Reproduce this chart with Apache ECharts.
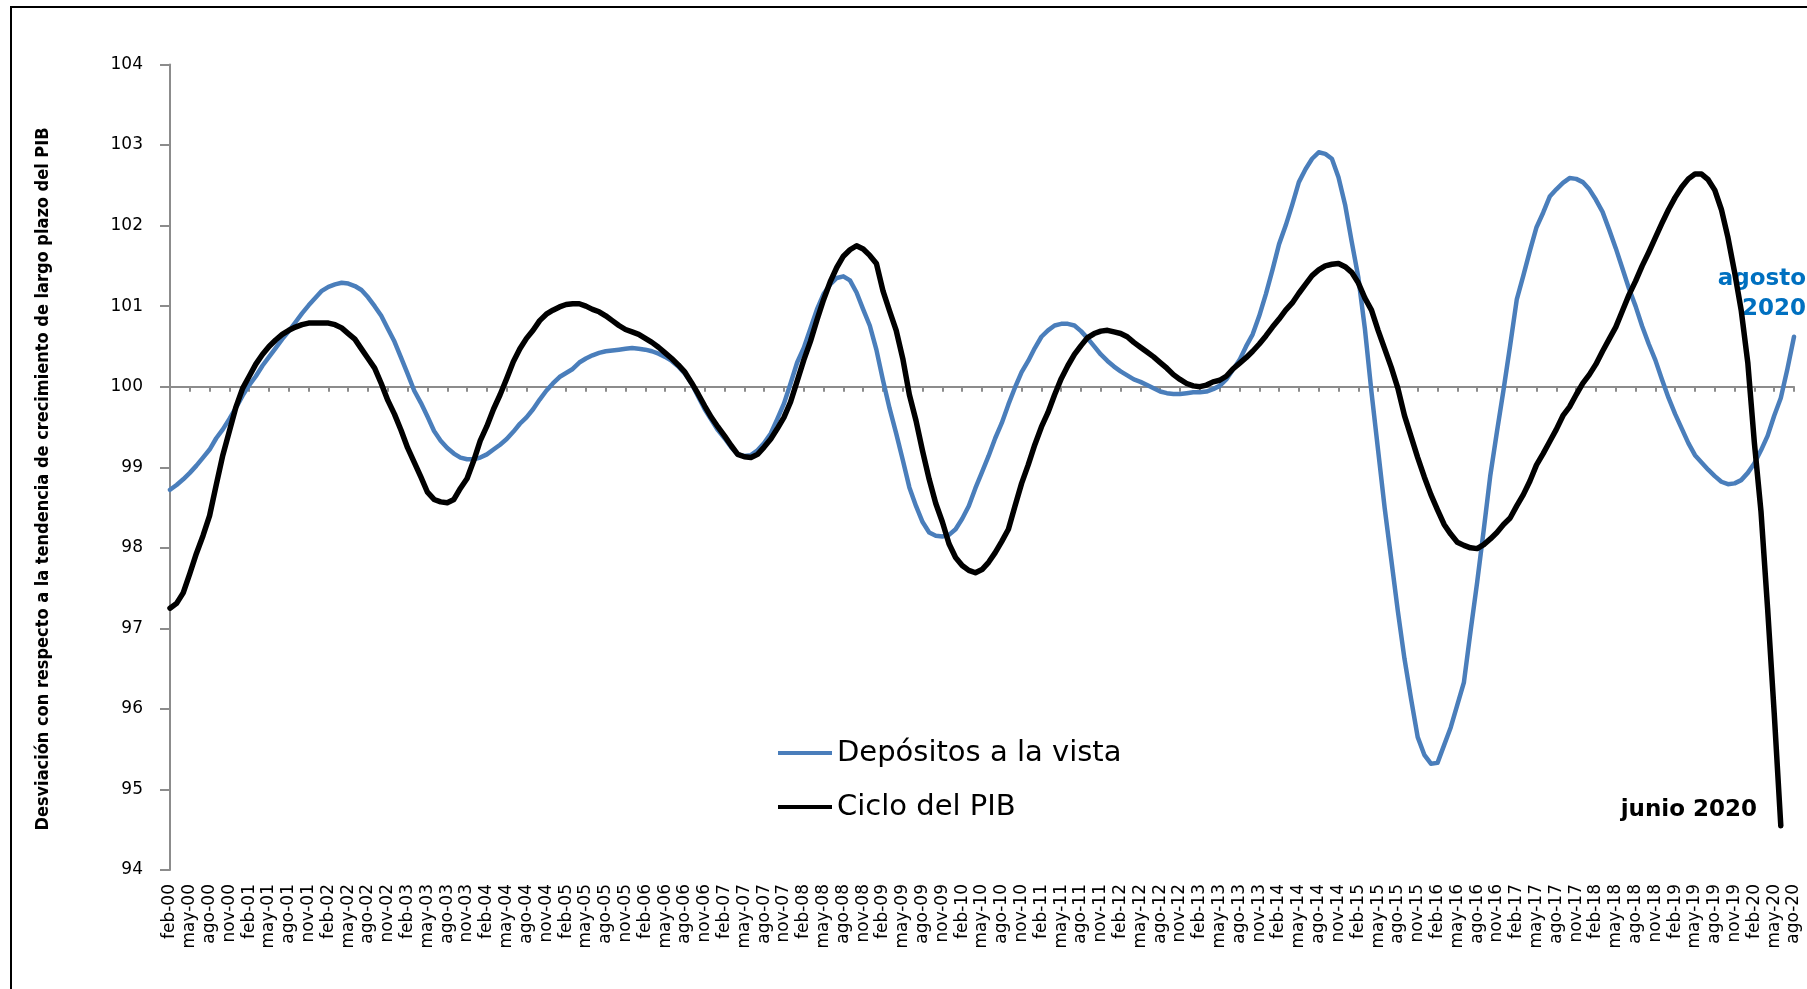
<!DOCTYPE html>
<html>
<head>
<meta charset="utf-8">
<script src="https://cdn.jsdelivr.net/npm/echarts@6/dist/echarts.min.js"></script>
<style>
  html, body { margin: 0; padding: 0; background: #fff; }
  #main { width: 1807px; height: 989px; }
</style>
</head>
<body>
<div id="main"></div>
<script>
// meses (la serie arranca en feb-00 y termina en ago-20)
var meses = ["ene", "feb", "mar", "abr", "may", "jun", "jul", "ago", "sep", "oct", "nov", "dic"];
var categorias = [];
for (var i = 0; i < 247; i++) {
  var k = i + 1;
  var anio = Math.floor(k / 12);
  categorias.push(meses[k % 12] + "-" + (anio < 10 ? "0" + anio : "" + anio));
}

// Depósitos a la vista (feb-00 .. ago-20)
var depositos = [
  98.72, 98.78, 98.85, 98.93, 99.02, 99.12, 99.22, 99.36, 99.47, 99.60, 99.74, 99.89,
  100.02, 100.13, 100.26, 100.37, 100.48, 100.59, 100.69, 100.80, 100.91, 101.01, 101.10, 101.19,
  101.24, 101.27, 101.29, 101.28, 101.25, 101.20, 101.11, 101.00, 100.88, 100.72, 100.56, 100.36,
  100.16, 99.95, 99.80, 99.63, 99.45, 99.33, 99.24, 99.17, 99.12, 99.10, 99.10, 99.12,
  99.16, 99.22, 99.28, 99.35, 99.44, 99.54, 99.62, 99.72, 99.84, 99.95, 100.04, 100.12,
  100.17, 100.22, 100.30, 100.35, 100.39, 100.42, 100.44, 100.45, 100.46, 100.47, 100.48, 100.47,
  100.46, 100.44, 100.41, 100.37, 100.32, 100.25, 100.16, 100.04, 99.88, 99.72, 99.59, 99.46,
  99.36, 99.25, 99.16, 99.14, 99.15, 99.21, 99.30, 99.42, 99.60, 99.79, 100.04, 100.30,
  100.48, 100.72, 100.96, 101.15, 101.27, 101.35, 101.37, 101.32, 101.17, 100.96, 100.76, 100.46,
  100.08, 99.73, 99.42, 99.09, 98.75, 98.52, 98.32, 98.19, 98.15, 98.14, 98.16, 98.23,
  98.36, 98.52, 98.74, 98.94, 99.14, 99.36, 99.55, 99.78, 99.99, 100.18, 100.32, 100.48,
  100.62, 100.70, 100.76, 100.78, 100.78, 100.76, 100.69, 100.60, 100.50, 100.40, 100.32, 100.25,
  100.19, 100.14, 100.09, 100.06, 100.02, 99.98, 99.94, 99.92, 99.91, 99.91, 99.92, 99.93,
  99.93, 99.94, 99.97, 100.01, 100.09, 100.21, 100.33, 100.50, 100.65, 100.88, 101.15, 101.45,
  101.77, 102.00, 102.26, 102.54, 102.70, 102.83, 102.91, 102.89, 102.83, 102.60, 102.26, 101.80,
  101.36, 100.72, 99.93, 99.21, 98.49, 97.85, 97.21, 96.62, 96.12, 95.65, 95.43, 95.32,
  95.33, 95.55, 95.77, 96.05, 96.33, 96.96, 97.57, 98.22, 98.90, 99.44, 99.96, 100.51,
  101.08, 101.38, 101.69, 101.98, 102.16, 102.36, 102.45, 102.53, 102.59, 102.58, 102.54, 102.45,
  102.32, 102.17, 101.95, 101.72, 101.47, 101.22, 101.00, 100.75, 100.53, 100.33, 100.09, 99.86,
  99.66, 99.48, 99.30, 99.15, 99.06, 98.97, 98.89, 98.82, 98.79, 98.80, 98.84, 98.93,
  99.05, 99.21, 99.39, 99.64, 99.86, 100.22, 100.62
];

// Ciclo del PIB (feb-00 .. jun-20)
var cicloPib = [
  97.25, 97.31, 97.44, 97.68, 97.93, 98.15, 98.40, 98.78, 99.15, 99.45, 99.75, 99.98,
  100.13, 100.28, 100.40, 100.50, 100.58, 100.65, 100.70, 100.74, 100.77, 100.79, 100.79, 100.79,
  100.79, 100.77, 100.73, 100.66, 100.59, 100.47, 100.35, 100.23, 100.04, 99.83, 99.66, 99.46,
  99.24, 99.06, 98.88, 98.69, 98.60, 98.57, 98.56, 98.60, 98.74, 98.86, 99.08, 99.33,
  99.51, 99.72, 99.90, 100.10, 100.31, 100.47, 100.60, 100.70, 100.82, 100.90, 100.95, 100.99,
  101.02, 101.03, 101.03, 101.00, 100.96, 100.93, 100.88, 100.82, 100.76, 100.71, 100.68, 100.65,
  100.60, 100.55, 100.49, 100.42, 100.35, 100.27, 100.18, 100.05, 99.91, 99.76, 99.62, 99.50,
  99.39, 99.27, 99.16, 99.13, 99.12, 99.16, 99.25, 99.35, 99.48, 99.62, 99.81, 100.07,
  100.33, 100.56, 100.83, 101.08, 101.30, 101.48, 101.62, 101.70, 101.75, 101.71, 101.63, 101.53,
  101.19, 100.94, 100.70, 100.35, 99.90, 99.58, 99.20, 98.85, 98.55, 98.32, 98.05, 97.88,
  97.78, 97.72, 97.69, 97.73, 97.82, 97.94, 98.08, 98.23, 98.52, 98.80, 99.03, 99.28,
  99.50, 99.68, 99.90, 100.10, 100.26, 100.40, 100.51, 100.61, 100.66, 100.69, 100.70, 100.68,
  100.66, 100.62, 100.55, 100.49, 100.43, 100.37, 100.30, 100.23, 100.15, 100.09, 100.04, 100.01,
  100.00, 100.02, 100.06, 100.08, 100.13, 100.22, 100.29, 100.36, 100.44, 100.53, 100.63, 100.74,
  100.84, 100.95, 101.04, 101.16, 101.27, 101.38, 101.45, 101.50, 101.52, 101.53, 101.49, 101.42,
  101.29, 101.10, 100.95, 100.70, 100.47, 100.24, 99.98, 99.64, 99.38, 99.12, 98.88, 98.66,
  98.47, 98.29, 98.17, 98.07, 98.03, 98.00, 97.99, 98.04, 98.11, 98.19, 98.29, 98.37,
  98.52, 98.66, 98.83, 99.03, 99.17, 99.32, 99.47, 99.64, 99.75, 99.90, 100.04, 100.15,
  100.28, 100.44, 100.59, 100.74, 100.94, 101.14, 101.31, 101.50, 101.67, 101.85, 102.03, 102.20,
  102.35, 102.48, 102.58, 102.64, 102.64, 102.57, 102.44, 102.20, 101.85, 101.42, 100.95, 100.30,
  99.30, 98.45, 97.25, 95.95, 94.55, null, null
];

var yMin = 94, yMax = 104, yBase = 100;
var tituloY = "Desviación con respecto a la tendencia de crecimiento de largo plazo del PIB";

var chartDom = document.getElementById("main");
var myChart = echarts.init(chartDom);

var gridTop = 64.5, gridBottom = 119;
var gridHeight = 989 - gridTop - gridBottom;
// desplazamiento del eje auxiliar para que quede en 100
var offsetBase = -gridHeight * (yBase - yMin) / (yMax - yMin);

var option = {
  animation: false,
  backgroundColor: "#ffffff",
  grid: {
    left: 170,
    right: 13,
    top: gridTop,
    bottom: gridBottom,
    containLabel: false,
    outerBoundsMode: "none"
  },
  legend: {
    orient: "vertical",
    left: 778,
    top: 736,
    padding: 0,
    itemWidth: 54,
    itemHeight: 4,
    itemGap: 20,
    icon: "rect",
    textStyle: {
      fontFamily: "DejaVu Sans",
      fontSize: 29,
      color: "#000",
      lineHeight: 34
    },
    data: ["Depósitos a la vista", "Ciclo del PIB"]
  },
  xAxis: [
    {
      type: "category",
      data: categorias,
      boundaryGap: false,
      axisLine: { show: false },
      axisTick: { show: false },
      axisLabel: {
        interval: 2,
        rotate: 90,
        margin: 14,
        fontFamily: "DejaVu Sans",
        fontSize: 17,
        color: "#000"
      }
    },
    {
      type: "category",
      data: categorias,
      boundaryGap: false,
      position: "bottom",
      offset: offsetBase,
      axisLine: { show: true, lineStyle: { color: "#8c8c8c", width: 2 } },
      axisTick: { show: true, interval: 2, length: 5, lineStyle: { color: "#8c8c8c", width: 2 } },
      axisLabel: { show: false },
      splitLine: { show: false }
    }
  ],
  yAxis: {
    type: "value",
    min: yMin,
    max: yMax,
    interval: 1,
    axisLine: { show: true, lineStyle: { color: "#8c8c8c", width: 2 } },
    axisTick: { show: true, length: 10, lineStyle: { color: "#8c8c8c", width: 2 } },
    splitLine: { show: false },
    axisLabel: {
      margin: 27,
      fontFamily: "DejaVu Sans",
      fontSize: 17,
      color: "#000"
    }
  },
  series: [
    {
      name: "Depósitos a la vista",
      type: "line",
      data: depositos,
      symbol: "none",
      color: "#4a7ebb",
      lineStyle: { width: 4.5, color: "#4a7ebb", cap: "round", join: "round" }
    },
    {
      name: "Ciclo del PIB",
      type: "line",
      data: cicloPib,
      symbol: "none",
      color: "#000000",
      lineStyle: { width: 5.5, color: "#000000", cap: "round", join: "round" }
    }
  ],
  graphic: [
    {
      type: "rect",
      silent: true,
      shape: { x: 11, y: 7, width: 1900, height: 1100 },
      style: { fill: "none", stroke: "#000", lineWidth: 2 }
    },
    {
      type: "text",
      silent: true,
      x: 43,
      y: 479,
      rotation: Math.PI / 2,
      style: {
        text: tituloY,
        align: "center",
        verticalAlign: "middle",
        fontFamily: "'DejaVu Sans Condensed', 'Roboto Condensed', 'Liberation Sans Narrow', sans-serif",
        fontWeight: "bold",
        fontSize: 18,
        fill: "#000"
      }
    },
    {
      type: "text",
      silent: true,
      x: 1806,
      y: 264,
      style: {
        text: "agosto\n2020",
        align: "right",
        verticalAlign: "top",
        lineHeight: 30,
        fontFamily: "DejaVu Sans",
        fontWeight: "bold",
        fontSize: 23,
        fill: "#0070c0"
      }
    },
    {
      type: "text",
      silent: true,
      x: 1757,
      y: 810,
      style: {
        text: "junio 2020",
        align: "right",
        verticalAlign: "middle",
        fontFamily: "DejaVu Sans",
        fontWeight: "bold",
        fontSize: 23,
        fill: "#000"
      }
    }
  ]
};

option && myChart.setOption(option);
</script>
</body>
</html>
